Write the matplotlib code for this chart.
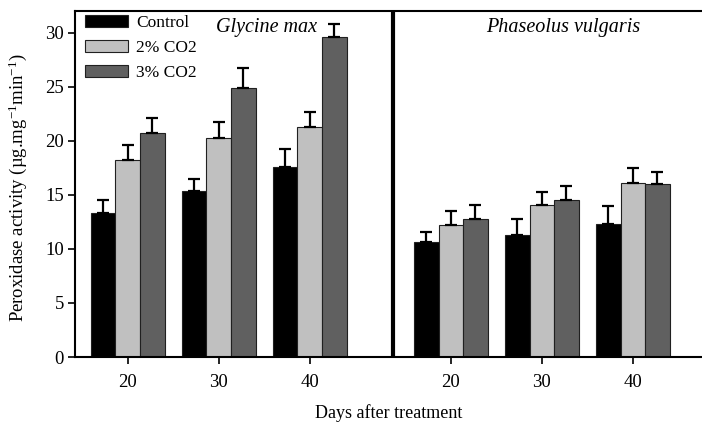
import matplotlib.pyplot as plt
import numpy as np

plt.rcParams['font.family'] = 'Liberation Serif'
plt.rcParams['mathtext.fontset'] = 'custom'
plt.rcParams['mathtext.rm'] = 'Liberation Serif'
plt.rcParams['mathtext.it'] = 'Liberation Serif:italic'

# data
days = ['20', '30', '40']
treatments = ['Control', '2% CO2', '3% CO2']
colors = ['#000000', '#c0c0c0', '#606060']

glycine_mean = [[13.3, 15.4, 17.6],
                [18.2, 20.3, 21.3],
                [20.7, 24.9, 29.6]]
glycine_err = [[1.25, 1.1, 1.65],
               [1.4, 1.4, 1.4],
               [1.4, 1.8, 1.2]]

phaseolus_mean = [[10.6, 11.3, 12.3],
                  [12.2, 14.1, 16.1],
                  [12.75, 14.5, 16.0]]
phaseolus_err = [[1.0, 1.45, 1.7],
                 [1.3, 1.2, 1.4],
                 [1.35, 1.3, 1.15]]

fig = plt.figure(figsize=(7.02, 4.25), dpi=100)
ax = fig.add_axes([0.1068, 0.16, 0.8932, 0.814])

x_left = np.arange(3)
x_right = np.arange(3) + 3.55
width = 0.27
offsets = [-width, 0, width]

for i in range(3):
    for xs, means, errs in [(x_left, glycine_mean, glycine_err),
                            (x_right, phaseolus_mean, phaseolus_err)]:
        ax.bar(xs + offsets[i], means[i], width, color=colors[i],
               edgecolor='#202020', linewidth=0.8,
               label=treatments[i] if xs is x_left else None, zorder=2)
        ax.errorbar(xs + offsets[i], means[i],
                    yerr=[np.zeros(3), errs[i]], fmt='none',
                    ecolor='black', elinewidth=1.6, capsize=4,
                    capthick=1.6, zorder=3)

# panel divider
ax.axvline(2.91, color='black', linewidth=3, zorder=4)

ax.set_xlim(-0.58, 6.31)
ax.set_ylim(0, 32)
ax.set_xticks(np.concatenate([x_left, x_right]))
ax.set_xticklabels(days + days)
ax.set_yticks(np.arange(0, 31, 5))
ax.tick_params(axis='both', direction='out', length=5, width=1.2,
               labelsize=13.5)
ax.tick_params(axis='x', pad=7)
ax.tick_params(axis='y', pad=3)

for s in ['left', 'bottom', 'top']:
    ax.spines[s].set_linewidth(1.5)
ax.spines['right'].set_visible(False)

ax.text(1.52, 30.5, 'Glycine max', style='italic', fontsize=14.5,
        ha='center', va='center')
ax.text(4.78, 30.5, 'Phaseolus vulgaris', style='italic', fontsize=14.5,
        ha='center', va='center')

ax.set_ylabel(r'Peroxidase activity (µg.mg$^{-1}$min$^{-1}$)', fontsize=13.5)
ax.yaxis.set_label_coords(-0.074, 0.49)
ax.set_xlabel('Days after treatment', fontsize=13, labelpad=10)

ax.legend(loc='upper left', bbox_to_anchor=(85 / 702, 1 - 15 / 425),
          bbox_transform=fig.transFigure, frameon=False, fontsize=12.5,
          handlelength=2.45, handleheight=0.7, handletextpad=0.5,
          labelspacing=0.5, borderpad=0, borderaxespad=0)

plt.savefig('out.png', dpi=100)
